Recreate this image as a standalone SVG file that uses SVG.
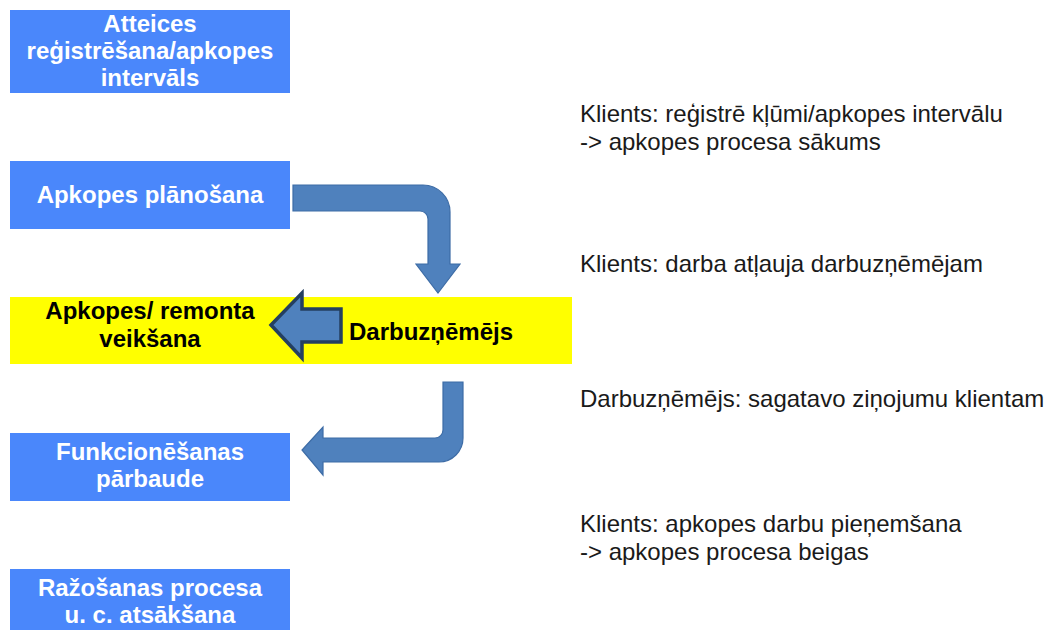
<svg xmlns="http://www.w3.org/2000/svg" width="1047" height="630" viewBox="0 0 1047 630">
<style>
.box{fill:#4a87fb}
.bt{font-family:"Liberation Sans",Arial,sans-serif;font-weight:bold;font-size:24px;fill:#ffffff;text-anchor:middle}
.yt{font-family:"Liberation Sans",Arial,sans-serif;font-weight:bold;font-size:24px;fill:#000000}
.rt{font-family:"Liberation Sans",Arial,sans-serif;font-size:24px;fill:#1a1a1a}
.arr{fill:#4f81bd;stroke:#3d6ca6;stroke-width:1.2}
</style>
<rect width="1047" height="630" fill="#ffffff"/>
<g id="node-atteices">
<rect class="box" x="10" y="10" width="280" height="83"/>
<text class="bt" x="150" y="32">Atteices</text>
<text class="bt" x="150" y="59">reģistrēšana/apkopes</text>
<text class="bt" x="150" y="86">intervāls</text>
</g>
<g id="node-planosana">
<rect class="box" x="10" y="161" width="280" height="68"/>
<text class="bt" x="150" y="203">Apkopes plānošana</text>
</g>
<g id="node-veiksana">
<rect x="10" y="297" width="562" height="67" fill="#ffff00"/>
<text class="yt" x="150" y="319" text-anchor="middle">Apkopes/ remonta</text>
<text class="yt" x="150" y="347" text-anchor="middle">veikšana</text>
<text class="yt" x="349" y="340" font-size="25">Darbuzņēmējs</text>
</g>
<g id="node-parbaude">
<rect class="box" x="10" y="433" width="280" height="68"/>
<text class="bt" x="150" y="460">Funkcionēšanas</text>
<text class="bt" x="150" y="487">pārbaude</text>
</g>
<g id="node-atsaksana">
<rect class="box" x="10" y="569" width="280" height="61"/>
<text class="bt" x="150" y="596">Ražošanas procesa</text>
<text class="bt" x="150" y="623">u. c. atsākšana</text>
</g>
<g id="connectors">
<path class="arr" d="M293,185 H423 A27,27 0 0 1 450,212 V264 H460 L438,293 L416,264 H428 V219 A8,8 0 0 0 420,211 H293 Z"/>
<path d="M271,325 L302,293 V309 H341 V342 H302 V358 Z" fill="#4f81bd" stroke="#243f60" stroke-width="3.5" stroke-linejoin="miter"/>
<path class="arr" d="M443,382 H463 V438 A24,24 0 0 1 439,462 H323 V475 L302,450 L323,427 V438 H435 A8,8 0 0 0 443,430 Z"/>
</g>
<g id="notes">
<text class="rt" x="580" y="122">Klients: reģistrē kļūmi/apkopes intervālu</text>
<text class="rt" x="580" y="150">-&gt; apkopes procesa sākums</text>
<text class="rt" x="580" y="272">Klients: darba atļauja darbuzņēmējam</text>
<text class="rt" x="580" y="407">Darbuzņēmējs: sagatavo ziņojumu klientam</text>
<text class="rt" x="580" y="532">Klients: apkopes darbu pieņemšana</text>
<text class="rt" x="580" y="560">-&gt; apkopes procesa beigas</text>
</g>
</svg>
